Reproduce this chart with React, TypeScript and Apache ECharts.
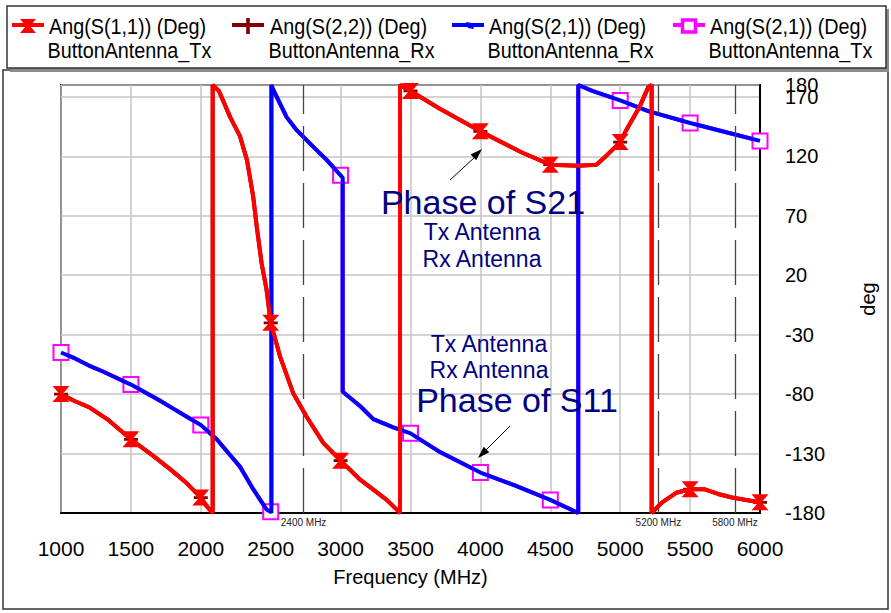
import React, { useEffect, useRef } from "react";
import * as echarts from "echarts";

// ---------- data ----------
// Ang(S(1,1)) ButtonAntenna_Tx (red) — wraps at ±180
const s11TxFreq = [1000, 1100, 1200, 1330, 1500, 1660, 1800, 1900, 2000, 2040, 2085, 2085, 2130, 2210, 2280, 2330, 2375, 2400, 2435, 2470, 2500, 2566, 2660, 2757, 2876, 3000, 3140, 3330, 3400, 3425, 3425, 3500, 3710, 4000, 4300, 4500, 4700, 4830, 4905, 5000, 5043, 5140, 5200, 5225, 5225, 5300, 5400, 5500, 5600, 5700, 5800, 5900, 6000];
const s11TxDeg = [-80, -86, -91, -101, -118, -132, -145, -155, -167, -174, -180, 180, 175, 153, 137, 117, 86, 61, 30, 8, -20, -48, -79, -99, -121, -136, -152, -169, -177, -180, 180, 175, 160, 141, 123, 113, 112, 113, 121, 132, 142, 162, 178, 180, -180, -171, -163, -160, -160, -164, -167, -169, -171];

// Ang(S(2,2)) ButtonAntenna_Rx (dark red) — coincides with S11 Tx (hidden beneath it)
const s22RxFreq = [...s11TxFreq];
const s22RxDeg = [...s11TxDeg];

// Ang(S(2,1)) ButtonAntenna_Rx (blue)
const s21RxFreq = [1000, 1100, 1200, 1300, 1500, 1700, 1800, 1900, 2000, 2114, 2200, 2280, 2375, 2470, 2500, 2505, 2505, 2518, 2614, 2686, 2805, 2900, 3000, 3015, 3015, 3139, 3234, 3377, 3500, 3700, 4000, 4250, 4500, 4700, 4700, 4800, 5000, 5200, 5500, 5800, 6000];
const s21RxDeg = [-45, -50, -56, -61, -72, -85, -92, -99, -106, -118, -130, -141, -160, -177, -179, -180, 180, 176, 153, 142, 128, 117, 104, 102, -78, -90, -101, -108, -113, -128, -146, -157, -169, -180, 180, 175, 167, 158, 148, 139, 133];

// Ang(S(2,1)) ButtonAntenna_Tx (magenta) — coincides with S21 Rx
const s21TxFreq = [...s21RxFreq];
const s21TxDeg = [...s21RxDeg];

const yTickLabels = [-180, -130, -80, -30, 20, 70, 120, 170];
const yTopLabel = [180];
const yMin = -180;
const yMax = 180;
const yStep = 50;
const xMin = 1000;
const xMax = 6000;
const xStep = 500;

const markerFreqs = [2735, 5273, 5821];
const markerNames = ["2400 MHz", "5200 MHz", "5800 MHz"];

const legendTitles = ["Ang(S(1,1)) (Deg)", "Ang(S(2,2)) (Deg)", "Ang(S(2,1)) (Deg)", "Ang(S(2,1)) (Deg)"];
const legendSubtitles = ["ButtonAntenna_Tx", "ButtonAntenna_Rx", "ButtonAntenna_Rx", "ButtonAntenna_Tx"];

const annotationS21 = ["Phase of S21", "Tx Antenna", "Rx Antenna"];
const annotationS11 = ["Tx Antenna", "Rx Antenna", "Phase of S11"];

// ---------- styling ----------
const RED = "#ff0000";
const DARKRED = "#800000";
const BLUE = "#0000ff";
const MAGENTA = "#ff00ff";
const NAVY = "#000080";
const FONT = "'Liberation Sans', Arial, sans-serif";

const HOURGLASS = "path://M0,0 L10,0 L5.9,5 L10,10 L0,10 L4.1,5 Z";
const PLUS = "path://M4,0 L6,0 L6,4 L10,4 L10,6 L6,6 L6,10 L4,10 L4,6 L0,6 L0,4 L4,4 Z";

const pairs = (f: number[], d: number[]) => f.map((x, i) => [x, d[i]]);
const isMarker = (x: number) => x % 500 === 0;

export default function App() {
  const ref = useRef<HTMLDivElement>(null);

  useEffect(() => {
    document.body.style.margin = "0";
    if (!ref.current) return;
    const chart = echarts.init(ref.current, undefined, { renderer: "svg" });

    const legendX = [12, 232, 452, 673];
    const legendTextX = [49, 270, 489, 710];
    const legendColors = [RED, DARKRED, BLUE, MAGENTA];

    const legendGraphics: any[] = [];
    legendColors.forEach((c, i) => {
      const lx = legendX[i];
      legendGraphics.push({
        type: "line",
        z: 101,
        shape: { x1: lx, y1: 25, x2: lx + 32, y2: 25 },
        style: { stroke: c, lineWidth: 4 },
      });
      const cx = lx + 16;
      if (i === 0) {
        legendGraphics.push({
          type: "polygon",
          z: 102,
          shape: { points: [[cx - 8, 19], [cx + 8, 19], [cx + 2, 26], [cx + 8, 33], [cx - 8, 33], [cx - 2, 26]] },
          style: { fill: c },
        });
      } else if (i === 1) {
        legendGraphics.push({
          type: "rect",
          z: 102,
          shape: { x: cx - 1.8, y: 18, width: 3.6, height: 16 },
          style: { fill: c },
        });
      } else if (i === 2) {
        legendGraphics.push({
          type: "polygon",
          z: 102,
          shape: { points: [[cx - 2, 22], [cx + 4, 23], [cx + 6, 29], [cx, 28]] },
          style: { fill: c },
        });
      } else {
        legendGraphics.push({
          type: "rect",
          z: 102,
          shape: { x: cx - 6.5, y: 20, width: 13, height: 12 },
          style: { fill: "#fff", stroke: c, lineWidth: 3.5 },
        });
      }
      legendGraphics.push({
        type: "text",
        z: 102,
        x: legendTextX[i],
        y: 26,
        scaleX: 0.9,
        style: { text: legendTitles[i], fontSize: 22, fontFamily: FONT, fill: "#000", verticalAlign: "middle", align: "left" },
      });
      legendGraphics.push({
        type: "text",
        z: 102,
        x: legendTextX[i] - 1.5,
        y: 50,
        scaleX: 0.9,
        style: { text: legendSubtitles[i], fontSize: 22, fontFamily: FONT, fill: "#000", verticalAlign: "middle", align: "left" },
      });
    });

    const markLineData = markerFreqs.map((f, i) => ({ xAxis: f, name: markerNames[i] }));

    const yLabelBase = {
      fontSize: 20,
      color: "#000",
      margin: 25,
      fontFamily: FONT,
      formatter: (v: number) => String(v),
    };

    const option: any = {
      animation: false,
      backgroundColor: "#ffffff",
      textStyle: { fontFamily: FONT },
      grid: {
        left: 61,
        right: 131,
        top: 85,
        bottom: 100,
        show: true,
        borderColor: "#000",
        borderWidth: 2,
        backgroundColor: "transparent",
      },
      xAxis: {
        type: "value",
        min: xMin,
        max: xMax,
        interval: xStep,
        name: "Frequency (MHz)",
        nameLocation: "middle",
        nameGap: 54,
        nameTextStyle: { fontSize: 20, color: "#000", fontFamily: FONT },
        axisLine: { show: true, onZero: false, lineStyle: { color: "#000", width: 2 } },
        axisTick: { show: false },
        axisLabel: { fontSize: 21, color: "#000", margin: 25, fontFamily: FONT, formatter: (v: number) => String(v) },
        splitLine: { show: true, lineStyle: { color: "#c4c4c4", width: 1.5 } },
      },
      yAxis: [
        {
          type: "value",
          position: "right",
          min: yMin,
          max: yMax,
          interval: yStep,
          name: "deg",
          nameLocation: "middle",
          nameRotate: 90,
          nameGap: 98,
          nameTextStyle: { fontSize: 20, color: "#000", fontFamily: FONT },
          axisLine: { show: true, onZero: false, lineStyle: { color: "#000", width: 2 } },
          axisTick: { show: false },
          axisLabel: { ...yLabelBase, customValues: yTickLabels },
          splitLine: { show: true, lineStyle: { color: "#c4c4c4", width: 1.5 } },
        },
        {
          type: "value",
          position: "right",
          min: yMin,
          max: yMax,
          interval: yStep,
          axisLine: { show: false, onZero: false },
          axisTick: { show: false },
          axisLabel: { ...yLabelBase, customValues: yTopLabel },
          splitLine: { show: false },
        },
      ],
      series: [
        {
          name: "Ang(S(2,2)) (Deg) ButtonAntenna_Rx",
          type: "line",
          data: pairs(s22RxFreq, s22RxDeg),
          showAllSymbol: true,
          symbol: (v: number[]) => (isMarker(v[0]) ? PLUS : "none"),
          symbolSize: 14,
          lineStyle: { color: DARKRED, width: 4 },
          itemStyle: { color: DARKRED },
          z: 2,
        },
        {
          name: "Ang(S(2,1)) (Deg) ButtonAntenna_Tx",
          type: "line",
          data: pairs(s21TxFreq, s21TxDeg),
          showAllSymbol: true,
          symbol: (v: number[]) => (isMarker(v[0]) ? "emptyRect" : "none"),
          symbolSize: 15,
          lineStyle: { color: MAGENTA, width: 4 },
          itemStyle: { color: MAGENTA, borderColor: MAGENTA, borderWidth: 4 },
          z: 3,
        },
        {
          name: "Ang(S(2,1)) (Deg) ButtonAntenna_Rx",
          type: "line",
          data: pairs(s21RxFreq, s21RxDeg),
          symbol: "none",
          lineStyle: { color: BLUE, width: 4 },
          itemStyle: { color: BLUE },
          z: 4,
        },
        {
          name: "Ang(S(1,1)) (Deg) ButtonAntenna_Tx",
          type: "line",
          data: pairs(s11TxFreq, s11TxDeg),
          showAllSymbol: true,
          symbol: (v: number[]) => (isMarker(v[0]) ? HOURGLASS : "none"),
          symbolSize: [17, 16],
          lineStyle: { color: RED, width: 4 },
          itemStyle: { color: RED },
          z: 5,
          markLine: {
            silent: true,
            symbol: "none",
            animation: false,
            lineStyle: { color: "#444", width: 1.3, type: [45, 12] },
            label: {
              show: true,
              position: "start",
              formatter: "{b}",
              fontSize: 10,
              color: "#222",
              distance: 4,
              fontFamily: FONT,
            },
            data: markLineData,
          },
        },
      ],
      graphic: [
        {
          type: "rect",
          z: 0,
          silent: true,
          shape: { x: 3, y: 70, width: 885, height: 539 },
          style: { fill: "none", stroke: "#333", lineWidth: 1.5 },
        },
        {
          type: "rect",
          z: 99,
          silent: true,
          shape: { x: 10, y: 9, width: 879, height: 63 },
          style: { fill: "#8c8c8c" },
        },
        {
          type: "rect",
          z: 100,
          silent: true,
          shape: { x: 7, y: 6, width: 879, height: 62 },
          style: { fill: "#fff", stroke: "#333", lineWidth: 1.5 },
        },
        ...legendGraphics,
        {
          type: "text",
          z: 50,
          style: { text: annotationS21[0], x: 483, y: 202, fontSize: 34, fill: NAVY, align: "center", verticalAlign: "middle", fontFamily: FONT },
        },
        {
          type: "text",
          z: 50,
          style: { text: annotationS21[1], x: 482, y: 232, fontSize: 23, fill: NAVY, align: "center", verticalAlign: "middle", fontFamily: FONT },
        },
        {
          type: "text",
          z: 50,
          style: { text: annotationS21[2], x: 482, y: 259, fontSize: 23, fill: NAVY, align: "center", verticalAlign: "middle", fontFamily: FONT },
        },
        {
          type: "line",
          z: 50,
          shape: { x1: 450, y1: 180, x2: 475, y2: 157 },
          style: { stroke: "#000", lineWidth: 1 },
        },
        {
          type: "polygon",
          z: 50,
          shape: { points: [[482, 149], [476.2, 160.2], [470.6, 154.4]] },
          style: { fill: "#000" },
        },
        {
          type: "text",
          z: 50,
          style: { text: annotationS11[0], x: 489, y: 344, fontSize: 23, fill: NAVY, align: "center", verticalAlign: "middle", fontFamily: FONT },
        },
        {
          type: "text",
          z: 50,
          style: { text: annotationS11[1], x: 489, y: 370, fontSize: 23, fill: NAVY, align: "center", verticalAlign: "middle", fontFamily: FONT },
        },
        {
          type: "text",
          z: 50,
          style: { text: annotationS11[2], x: 517, y: 400, fontSize: 34, fill: NAVY, align: "center", verticalAlign: "middle", fontFamily: FONT },
        },
        {
          type: "line",
          z: 50,
          shape: { x1: 510, y1: 426, x2: 486, y2: 450 },
          style: { stroke: "#000", lineWidth: 1 },
        },
        {
          type: "polygon",
          z: 50,
          shape: { points: [[478, 458], [489.3, 452.3], [483.7, 446.7]] },
          style: { fill: "#000" },
        },
      ],
    };

    chart.setOption(option);
    return () => chart.dispose();
  }, []);

  return <div ref={ref} style={{ width: 891, height: 613 }} />;
}
